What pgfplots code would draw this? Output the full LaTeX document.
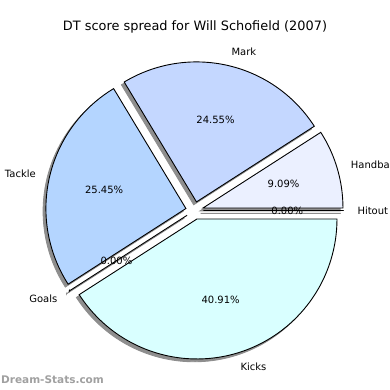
\documentclass[border=0pt]{standalone}
\usepackage{pgfplots}
\pgfplotsset{compat=1.18}
\usepackage{pgfplotstable}
\usepackage{fontspec}
\setmainfont{DejaVu Sans}
\pgfkeys{/pgf/number format/assume math mode=true}
\definecolor{hitcol}{HTML}{FFFFFF}
\definecolor{hbcol}{HTML}{EBF0FF}
\definecolor{mkcol}{HTML}{C4D7FF}
\definecolor{tkcol}{HTML}{B4D5FF}
\definecolor{glcol}{HTML}{FFFFFF}
\definecolor{kkcol}{HTML}{D9FFFF}
\definecolor{shadowcol}{HTML}{8E8E8E}
\definecolor{wmcol}{HTML}{A0A0A0}

\pgfplotstableread{
label value color
Hitout 0 hitcol
Handball 10 hbcol
Mark 27 mkcol
Tackle 28 tkcol
Goals 0 glcol
Kicks 45 kkcol
}\piedata

\def\explode{0.063}

% #1 = 0 shadows, 1 wedges, 2 labels
\newcommand\pieloop[1]{%
  \def\cum{0}%
  \pgfplotsforeachungrouped \i in {0,...,\lastrow}{%
    \pgfplotstablegetelem{\i}{value}\of\piedata \let\val\pgfplotsretval
    \pgfplotstablegetelem{\i}{color}\of\piedata \let\col\pgfplotsretval
    \pgfplotstablegetelem{\i}{label}\of\piedata \let\lab\pgfplotsretval
    \pgfmathsetmacro\a{\cum/\total*360}%
    \pgfmathsetmacro\cum{\cum+\val}%
    \pgfmathsetmacro\b{\cum/\total*360}%
    \pgfmathsetmacro\m{(\a+\b)/2}%
    \pgfmathsetmacro\bb{max(\b,\a+0.01)}%
    \pgfmathsetmacro\ex{\explode*cos(\m)}%
    \pgfmathsetmacro\ey{\explode*sin(\m)}%
    \ifcase#1
      \pgfmathsetmacro\sx{\ex-0.02}%
      \pgfmathsetmacro\sy{\ey-0.02}%
      \edef\tmp{\noexpand\addplot[draw=shadowcol, fill=shadowcol, line width=0.9pt,
        domain=\a:\bb, samples=90, variable=\noexpand\t]
        ({\sx+cos(\noexpand\t)},{\sy+sin(\noexpand\t)}) -- (axis cs:\sx,\sy) -- cycle;}%
      \tmp
    \or
      \edef\tmp{\noexpand\addplot[draw=black, fill=\col, line width=0.9pt,
        domain=\a:\bb, samples=90, variable=\noexpand\t]
        ({\ex+cos(\noexpand\t)},{\ey+sin(\noexpand\t)}) -- (axis cs:\ex,\ey) -- cycle;}%
      \tmp
    \or
      \pgfmathsetmacro\lx{(\explode+1.1)*cos(\m)}%
      \pgfmathsetmacro\ly{(\explode+1.1)*sin(\m)}%
      \pgfmathsetmacro\px{(\explode+0.6)*cos(\m)}%
      \pgfmathsetmacro\py{(\explode+0.6)*sin(\m)}%
      \pgfmathsetmacro\pct{\val/\total*100}%
      \pgfmathsetmacro\cm{cos(\m)}%
      \ifdim\cm pt>0pt \def\anc{west}\else\def\anc{east}\fi
      \edef\tmp{\noexpand\node[anchor=\anc, inner sep=0pt,
          font=\noexpand\fontsize{10}{12}\noexpand\selectfont] at (axis cs:\lx,\ly) {\lab};
        \noexpand\node[inner sep=0pt, font=\noexpand\fontsize{10}{12}\noexpand\selectfont]
          at (axis cs:\px,\py) {\noexpand\pgfmathprintnumber[fixed,fixed zerofill,precision=2]{\pct}\noexpand\%};}%
      \tmp
    \fi
  }%
}

\begin{document}
\begin{tikzpicture}
\begin{axis}[x=140pt, y=140pt,
  xmin=-1.3893, xmax=1.3964, ymin=-1.2821, ymax=1.5036,
  hide axis, clip=false]
\pgfplotstablegetrowsof{\piedata}
\pgfmathtruncatemacro\lastrow{\pgfplotsretval-1}
\def\total{0}
\pgfplotsforeachungrouped \i in {0,...,\lastrow}{%
  \pgfplotstablegetelem{\i}{value}\of\piedata
  \pgfmathsetmacro\total{\total+\pgfplotsretval}%
}
\pieloop{0}
\pieloop{1}
\pieloop{2}
\node[inner sep=0pt, font=\fontsize{12.9}{15}\selectfont] at (axis cs:0.0036,1.312)
  {DT score spread for Will Schofield (2007)};
\node[anchor=west, inner sep=0pt, text=wmcol, font=\bfseries\fontsize{10.5}{12}\selectfont]
  at (axis cs:-1.3822,-1.2107) {Dream-Stats.com};
\end{axis}
\pgfresetboundingbox
\path[use as bounding box] (current axis.south west) rectangle (current axis.north east);
\end{tikzpicture}
\end{document}
